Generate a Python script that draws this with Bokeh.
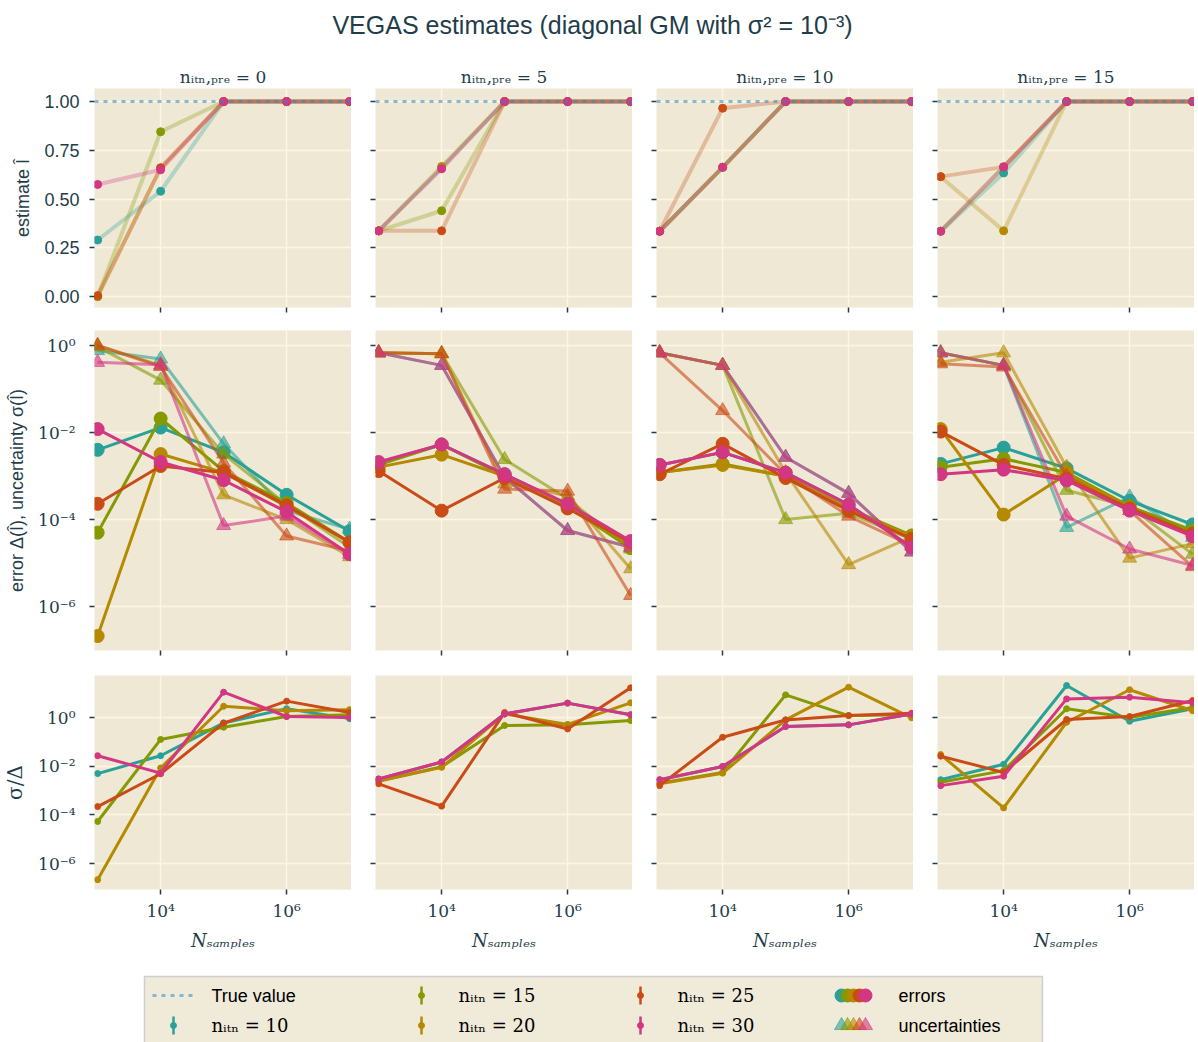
from bokeh.plotting import figure
from bokeh.layouts import column, row
from bokeh.models import Range1d, FixedTicker, CustomJSTickFormatter, NumeralTickFormatter, Span
from bokeh.core.properties import value
from bokeh.embed import file_html
from bokeh.resources import INLINE

# ---------------- data ----------------
N_samples = [1e3, 1e4, 1e5, 1e6, 1e7]
n_itn = [10, 15, 20, 25, 30]
n_itn_pre = [0, 5, 10, 15]
TRUE_VALUE = 1.0
colors = ["#2aa198", "#859900", "#b58900", "#cb4b16", "#d33682"]

# estimates I-hat (one list per n_itn series: 10, 15, 20, 25, 30)
est_pre0 = [[0.29, 0.54, 1, 1, 1], [0.0, 0.845, 1, 1, 1], [0.0, 0.66, 1, 1, 1],
            [0.005, 0.66, 1, 1, 1], [0.575, 0.65, 1, 1, 1]]
est_pre5 = [[0.337, 0.66, 1, 1, 1], [0.337, 0.44, 1, 1, 1], [0.337, 0.667, 1, 1, 1],
            [0.337, 0.337, 1, 1, 1], [0.337, 0.655, 1, 1, 1]]
est_pre10 = [[0.335, 0.663, 1, 1, 1], [0.335, 0.663, 1, 1, 1], [0.335, 0.663, 1, 1, 1],
             [0.335, 0.966, 1, 1, 1], [0.335, 0.663, 1, 1, 1]]
est_pre15 = [[0.335, 0.634, 1, 1, 1], [0.335, 0.665, 1, 1, 1], [0.615, 0.337, 1, 1, 1],
             [0.615, 0.665, 1, 1, 1], [0.335, 0.665, 1, 1, 1]]

# errors Delta
err_pre0 = [[4e-3, 1.3e-2, 3.5e-3, 3.7e-4, 5.4e-5], [5e-5, 2.1e-2, 1.3e-3, 2.4e-4, 3e-5],
            [2.1e-7, 3.2e-3, 1.2e-3, 2e-4, 3e-5], [2.3e-4, 1.7e-3, 1.2e-3, 2.1e-4, 3e-5],
            [1.2e-2, 2.1e-3, 8e-4, 1.5e-4, 1.6e-5]]
err_pre5 = [[2.0e-3, 5.3e-3, 1.1e-3, 2.2e-4, 3.0e-5], [1.8e-3, 5.3e-3, 1.0e-3, 2.0e-4, 2.2e-5],
            [1.6e-3, 3.1e-3, 1.0e-3, 2.0e-4, 2.6e-5], [1.3e-3, 1.6e-4, 9e-4, 1.8e-4, 3e-5],
            [2.1e-3, 5.3e-3, 1.1e-3, 2.3e-4, 3.2e-5]]
err_pre10 = [[1.8e-3, 3.5e-3, 1.2e-3, 2.2e-4, 2.3e-5], [1.2e-3, 1.9e-3, 1.0e-3, 1.8e-4, 4.3e-5],
             [1.2e-3, 1.8e-3, 1.0e-3, 1.8e-4, 4.0e-5], [1.1e-3, 5.5e-3, 9e-4, 1.6e-4, 3.6e-5],
             [1.8e-3, 3.5e-3, 1.2e-3, 2.2e-4, 2.3e-5]]
err_pre15 = [[1.9e-3, 4.5e-3, 1.5e-3, 2.7e-4, 7.7e-5], [1.6e-3, 2.5e-3, 1.2e-3, 2.0e-4, 5.6e-5],
             [1.2e-2, 1.3e-4, 1.1e-3, 1.9e-4, 4.5e-5], [1.05e-2, 1.8e-3, 8.7e-4, 1.8e-4, 4.7e-5],
             [1.1e-3, 1.4e-3, 7.9e-4, 1.6e-4, 4.1e-5]]

# uncertainties sigma
unc_pre0 = [[0.77, 0.49, 5.5e-3, 1.6e-4, 6e-5], [0.93, 0.16, 3.2e-3, 2.2e-4, 2.3e-5],
            [1.0, 0.35, 3.7e-4, 1.0e-4, 1.4e-5], [1.0, 0.33, 2e-3, 4.2e-5, 1.9e-5],
            [0.41, 0.36, 7.3e-5, 1.2e-4, 1.6e-5]]
unc_pre5 = [[0.68, 0.35, 9.4e-4, 5.6e-5, 2.3e-5], [0.68, 0.65, 2.4e-3, 3e-4, 2.1e-5],
            [0.68, 0.65, 6.6e-4, 3.5e-4, 7.4e-6], [0.68, 0.65, 5e-4, 4.5e-4, 1.8e-6],
            [0.68, 0.35, 9.4e-4, 5.6e-5, 2.3e-5]]
unc_pre10 = [[0.68, 0.35, 2.7e-3, 4e-4, 1.8e-5], [0.68, 0.35, 1.0e-4, 1.4e-4, 3.5e-5],
             [0.68, 0.35, 1.2e-3, 9.2e-6, 4.0e-5], [0.68, 3.2e-2, 1.1e-3, 1.2e-4, 2.5e-5],
             [0.68, 0.35, 2.7e-3, 4e-4, 1.8e-5]]
unc_pre15 = [[0.68, 0.35, 6.6e-5, 3.3e-4, 3.9e-5], [0.68, 0.35, 4.7e-4, 2e-4, 1.6e-5],
             [0.41, 0.68, 1.6e-3, 1.3e-5, 2.8e-5], [0.38, 0.32, 1.0e-3, 1.6e-4, 8.3e-6],
             [0.68, 0.35, 1.2e-4, 2.1e-5, 8.8e-6]]

# ratio row
ratio_pre0 = [[5e-3, 0.027, 0.6, 2.3, 0.9], [5.4e-5, 0.126, 0.4, 1.1, 1.3],
              [2.2e-7, 8.5e-3, 2.9, 1.9, 2.1], [2.2e-4, 4.9e-3, 0.59, 4.7, 1.6],
              [0.027, 5.2e-3, 11, 1.1, 1.0]]
ratio_pre5 = [[3e-3, 0.015, 1.4, 3.9, 1.3], [2.5e-3, 9.5e-3, 0.47, 0.5, 0.75],
              [2.4e-3, 9e-3, 1.4, 0.52, 4.0], [1.9e-3, 2.3e-4, 1.6, 0.34, 16.6],
              [3e-3, 0.015, 1.4, 3.9, 1.3]]
ratio_pre10 = [[2.8e-3, 9.8e-3, 0.43, 0.5, 1.4], [2e-3, 5.6e-3, 8.5, 1.2, 1.3],
               [1.9e-3, 5.2e-3, 0.8, 17.6, 0.97], [1.6e-3, 0.155, 0.8, 1.2, 1.5],
               [2.8e-3, 9.8e-3, 0.43, 0.5, 1.4]]
ratio_pre15 = [[2.8e-3, 0.012, 20.6, 0.7, 2.3], [2.2e-3, 6.6e-3, 2.3, 1.0, 2.6],
               [0.03, 1.95e-4, 0.64, 13.8, 1.9], [0.026, 5.6e-3, 0.83, 1.1, 5.0],
               [1.6e-3, 3.9e-3, 5.8, 6.8, 4.0]]

EST = [est_pre0, est_pre5, est_pre10, est_pre15]
ERR = [err_pre0, err_pre5, err_pre10, err_pre15]
UNC = [unc_pre0, unc_pre5, unc_pre10, unc_pre15]
RAT = [ratio_pre0, ratio_pre5, ratio_pre10, ratio_pre15]

# ---------------- style ----------------
TXT = "#1f3d4a"
BG = "#eee8d5"
GRID = "#fdf6e3"
SANS = "Liberation Sans"
SERIF = "DejaVu Serif"
TRUE_COL = "#268bd2"

SUP_JS = """
const sup = {"-":"\u207b","0":"\u2070","1":"\u00b9","2":"\u00b2","3":"\u00b3","4":"\u2074",
             "5":"\u2075","6":"\u2076","7":"\u2077","8":"\u2078","9":"\u2079"};
const e = Math.round(Math.log10(tick));
return "10" + String(e).split("").map(ch => sup[ch]).join("");
"""


def hide_labels(ax):
    ax.major_label_text_font_size = "1px"
    ax.major_label_text_color = None
    ax.major_label_standoff = 0


def make_panel(r, c):
    left = 94 if c == 0 else 24
    if r == 0:
        yr = Range1d(-0.056, 1.067); ytype = "linear"; fh = 219; top = 0; bottom = 12
    elif r == 1:
        yr = Range1d(10 ** -7.01, 10 ** 0.345); ytype = "log"; fh = 320; top = 11; bottom = 13
    else:
        yr = Range1d(10 ** -7.06, 10 ** 1.725); ytype = "log"; fh = 214; top = 12; bottom = 60
    p = figure(frame_width=257, frame_height=fh, x_axis_type="log", y_axis_type=ytype,
               x_range=Range1d(10 ** 2.95, 10 ** 7.03), y_range=yr,
               toolbar_location=None, output_backend="svg",
               min_border=0, min_border_left=left, min_border_right=0,
               min_border_top=top, min_border_bottom=bottom)
    p.background_fill_color = BG
    p.border_fill_color = "white"
    p.outline_line_color = None

    xt = FixedTicker(ticks=[1e4, 1e6], minor_ticks=[])
    p.xaxis.ticker = xt
    p.xgrid.ticker = xt
    if r == 0:
        yt = FixedTicker(ticks=[0.0, 0.25, 0.5, 0.75, 1.0], minor_ticks=[])
    else:
        yt = FixedTicker(ticks=[1e-6, 1e-4, 1e-2, 1.0], minor_ticks=[])
    p.yaxis.ticker = yt
    p.ygrid.ticker = yt
    p.grid.grid_line_color = GRID
    p.grid.grid_line_width = 1.5

    for ax in p.axis:
        ax.axis_line_color = None
        ax.major_tick_line_color = TXT
        ax.major_tick_line_width = 1.5
        ax.major_tick_out = 5
        ax.major_tick_in = 0
        ax.minor_tick_line_color = None
        ax.major_label_text_color = TXT

    # y labels
    if c == 0:
        if r == 0:
            p.yaxis.formatter = NumeralTickFormatter(format="0.00")
            p.yaxis.major_label_text_font = SANS
            p.yaxis.major_label_text_font_size = "18px"
            p.yaxis.major_label_standoff = 10
            p.yaxis.axis_label = "estimate Î"
            p.yaxis.axis_label_text_font = SANS
            p.yaxis.axis_label_text_font_size = "18px"
        else:
            p.yaxis.formatter = CustomJSTickFormatter(code=SUP_JS)
            p.yaxis.major_label_text_font = SERIF
            p.yaxis.major_label_text_font_size = "17px"
            p.yaxis.major_label_standoff = 14
            if r == 1:
                p.yaxis.axis_label = "error Δ(Î), uncertainty σ(Î)"
                p.yaxis.axis_label_text_font = SANS
                p.yaxis.axis_label_text_font_size = "18px"
            else:
                p.yaxis.axis_label = "σ/Δ"
                p.yaxis.axis_label_text_font = SERIF
                p.yaxis.axis_label_text_font_size = "20px"
        p.yaxis.axis_label_text_font_style = "normal"
        p.yaxis.axis_label_text_color = TXT
        p.yaxis.axis_label_standoff = 8
    else:
        for ax in p.yaxis:
            hide_labels(ax)

    # x labels
    if r == 2:
        p.xaxis.formatter = CustomJSTickFormatter(code=SUP_JS)
        p.xaxis.major_label_text_font = SERIF
        p.xaxis.major_label_text_font_size = "17px"
        p.xaxis.major_label_standoff = 6
        p.xaxis.axis_label = "Nₛₐₘₚₗₑₛ"
        p.xaxis.axis_label_text_font = SERIF
        p.xaxis.axis_label_text_font_style = "italic"
        p.xaxis.axis_label_text_font_size = "18px"
        p.xaxis.axis_label_text_color = TXT
        p.xaxis.axis_label_standoff = 6
    else:
        for ax in p.xaxis:
            hide_labels(ax)

    # data
    if r == 0:
        p.add_layout(Span(location=TRUE_VALUE, dimension="width", line_color=TRUE_COL,
                          line_alpha=0.55, line_width=3, line_dash="4 5"))
        for i, col in enumerate(colors):
            p.line(N_samples, EST[c][i], line_color=col, line_width=4, line_alpha=0.3)
        for i, col in enumerate(colors):
            p.scatter(N_samples, EST[c][i], marker="circle", size=8, fill_color=col,
                      line_color=col)
    elif r == 1:
        for i, col in enumerate(colors):
            p.line(N_samples, ERR[c][i], line_color=col, line_width=3)
            p.scatter(N_samples, ERR[c][i], marker="circle", size=13, fill_color=col,
                      line_color=col)
            p.line(N_samples, UNC[c][i], line_color=col, line_width=3, line_alpha=0.6)
            p.scatter(N_samples, UNC[c][i], marker="triangle", size=14, fill_color=col,
                      line_color=col, fill_alpha=0.6, line_alpha=0.6)
    else:
        for i, col in enumerate(colors):
            p.line(N_samples, RAT[c][i], line_color=col, line_width=3)
            p.scatter(N_samples, RAT[c][i], marker="circle", size=6, fill_color=col,
                      line_color=col)
    return p


# ---------------- header ----------------
header = figure(width=1198, height=88, x_range=Range1d(0, 1198), y_range=Range1d(88, 0),
                toolbar_location=None, output_backend="svg", min_border=0)
header.axis.visible = False
header.grid.visible = False
header.outline_line_color = None
header.text(x=[592], y=[24], text=["VEGAS estimates (diagonal GM with σ² = 10⁻³)"],
            text_font=value(SANS), text_font_size="25px", text_color=TXT,
            text_align="center", text_baseline="middle")
col_centers = [222.5, 503.5, 784.5, 1065.5]
header.text(x=col_centers, y=[76] * 4,
            text=["nᵢₜₙ,ₚᵣₑ = %d" % v for v in n_itn_pre],
            text_font=value(SERIF), text_font_size="17px", text_color=TXT,
            text_align="center", text_baseline="middle")

rows = []
for r in range(3):
    rows.append(row(*[make_panel(r, c) for c in range(4)]))

# ---------------- legend ----------------
leg = figure(width=1198, height=92, x_range=Range1d(0, 1198), y_range=Range1d(92, 0),
             toolbar_location=None, output_backend="svg", min_border=0)
leg.axis.visible = False
leg.grid.visible = False
leg.outline_line_color = None
leg.quad(left=[144], right=[1042], top=[23], bottom=[91], fill_color="#f0ead9",
         line_color="#cfcfcf", line_width=1.5)
leg.line([152, 193], [42, 42], line_color=TRUE_COL, line_alpha=0.55, line_width=3,
         line_dash="4 5")
leg.text(x=[211], y=[42], text=["True value"], text_font=value(SANS), text_font_size="18px",
         text_color="black", text_baseline="middle")
lx = [173, 421, 421, 640, 640]
ly = [72, 42, 72, 42, 72]
for i, col in enumerate(colors):
    leg.segment(x0=[lx[i]], y0=[ly[i] - 9], x1=[lx[i]], y1=[ly[i] + 9], line_color=col,
                line_width=2.5)
    leg.scatter([lx[i]], [ly[i]], marker="circle", size=6, fill_color=col, line_color=col)
leg.text(x=[211, 458, 458, 677, 677], y=ly,
         text=["nᵢₜₙ = %d" % v for v in n_itn],
         text_font=value(SERIF), text_font_size="18px", text_color="black",
         text_baseline="middle")
for i, col in enumerate(colors):
    leg.scatter([841 + 6 * i], [42], marker="circle", size=13, fill_color=col, line_color=col)
    leg.scatter([841 + 6 * i], [72], marker="triangle", size=14, fill_color=col,
                line_color=col, fill_alpha=0.6, line_alpha=0.6)
leg.text(x=[898, 898], y=[42, 72], text=["errors", "uncertainties"], text_font=value(SANS),
         text_font_size="18px", text_color="black", text_baseline="middle")

layout = column(header, *rows, leg)
open("out.html", "w").write(file_html(layout, INLINE))
